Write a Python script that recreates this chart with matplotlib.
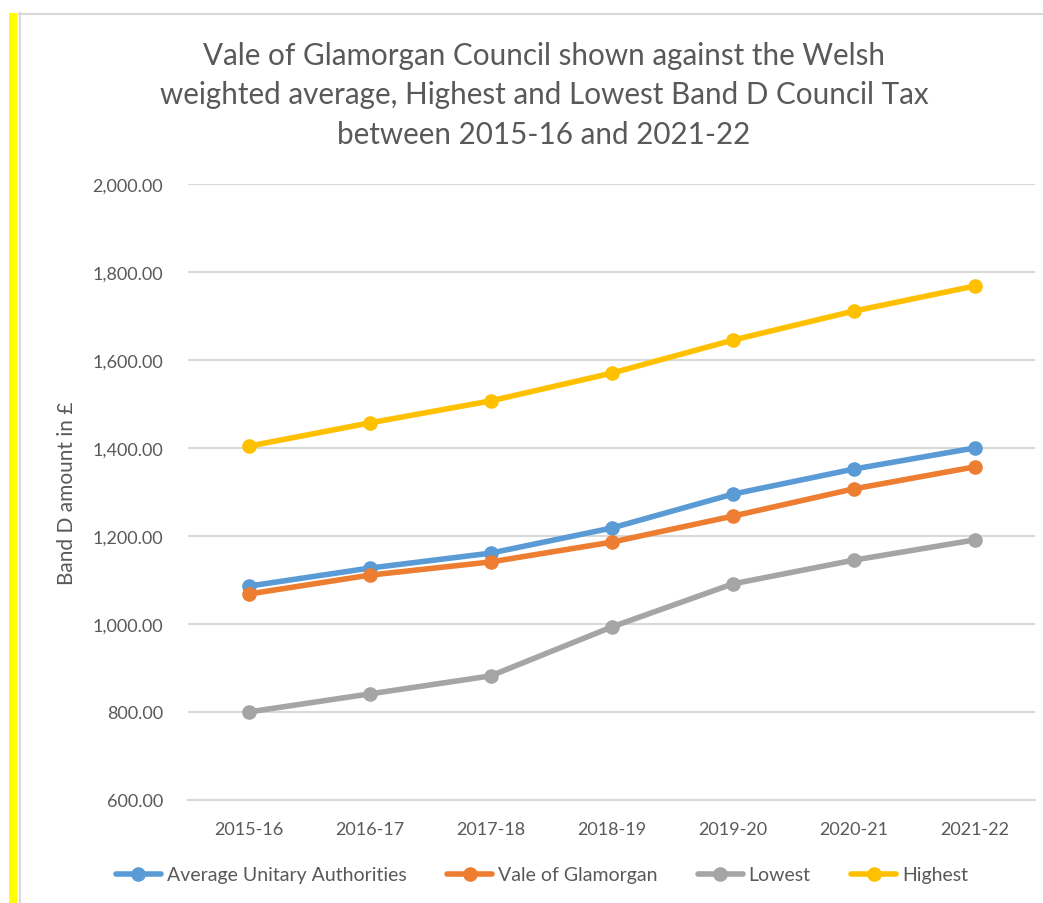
import matplotlib
matplotlib.use("Agg")
import matplotlib.pyplot as plt
from matplotlib.lines import Line2D
from matplotlib.patches import Rectangle
from matplotlib.ticker import FuncFormatter

years = ["2015-16", "2016-17", "2017-18", "2018-19", "2019-20", "2020-21", "2021-22"]
average_ua = [1086, 1127, 1161, 1218, 1295, 1352, 1400]
vale = [1068, 1111, 1141, 1186, 1245, 1307, 1357]
lowest = [800, 841, 882, 993, 1091, 1145, 1191]
highest = [1404, 1457, 1507, 1570, 1645, 1711, 1768]

series = [
    ("Average Unitary Authorities", average_ua, "#5b9bd5"),
    ("Vale of Glamorgan", vale, "#ed7d31"),
    ("Lowest", lowest, "#a5a5a5"),
    ("Highest", highest, "#ffc000"),
]

plt.rcParams['font.family'] = ['Lato', 'DejaVu Sans']
W, H = 1043, 904
fig = plt.figure(figsize=(W / 100, H / 100), dpi=100)
fig.patch.set_facecolor("white")

ax = fig.add_axes([188 / W, 1 - 801 / H, (1035 - 188) / W, (801 - 185) / H])
x = list(range(len(years)))
for name, vals, col in series:
    ax.plot(x, vals, color=col, lw=4.0, marker="o", markersize=9.5, label=name,
            solid_capstyle="round")

ax.set_xlim(-0.5, len(years) - 0.5)
ax.set_ylim(600, 2000)
ax.set_yticks(range(600, 2001, 200))
ax.yaxis.set_major_formatter(FuncFormatter(lambda v, p: f"{v:,.2f}"))
ax.set_xticks(x)
ax.set_xticklabels(years)
ax.grid(axis="y", color="#d9d9d9", lw=1.5)
ax.set_axisbelow(True)
for s in ["top", "right", "left"]:
    ax.spines[s].set_visible(False)
ax.spines["bottom"].set_color("#d9d9d9")
ax.spines["bottom"].set_linewidth(1.5)
ax.tick_params(axis="both", length=0, colors="#595959", labelsize=13)
ax.tick_params(axis="y", pad=18)
ax.tick_params(axis="x", pad=15)

ax.set_ylabel("Band D amount in £", fontsize=15, color="#595959", labelpad=11)

fig.text(544 / W, 1 - 95 / H,
         "Vale of Glamorgan Council shown against the Welsh\n"
         "weighted average, Highest and Lowest Band D Council Tax\n"
         "between 2015-16 and 2021-22",
         ha="center", va="center", fontsize=21.3, color="#595959", linespacing=1.5)

leg = fig.legend(loc="center", bbox_to_anchor=(542 / W, 1 - 876 / H), ncol=4,
                 frameon=False, fontsize=14, labelcolor="#595959",
                 handlelength=2.3, handletextpad=0.3, columnspacing=2.1)

# decorative frame
fig.add_artist(Rectangle((9 / W, 0), 8 / W, 1 - 14 / H, transform=fig.transFigure,
                         facecolor="#ffff00", edgecolor="none"))
fig.add_artist(Line2D([19.5 / W, 19.5 / W], [0, 1 - 14 / H], transform=fig.transFigure,
                      color="#d9d9d9", lw=1.5))
fig.add_artist(Line2D([19 / W, 1], [1 - 15 / H, 1 - 15 / H], transform=fig.transFigure,
                      color="#d9d9d9", lw=1.5))

fig.savefig("out.png", dpi=100, facecolor="white")
